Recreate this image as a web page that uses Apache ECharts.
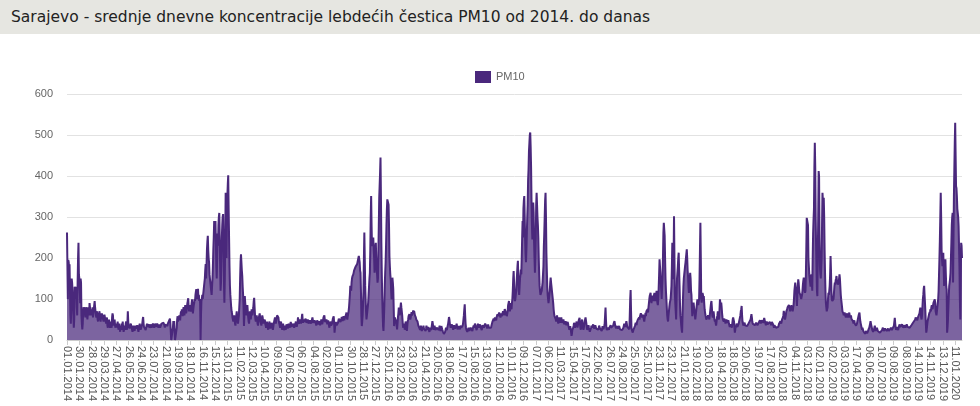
<!DOCTYPE html>
<html><head><meta charset="utf-8">
<script src="https://cdn.jsdelivr.net/npm/echarts@6/dist/echarts.min.js"></script>
<style>
html,body{margin:0;padding:0;background:#fff;width:980px;height:406px;overflow:hidden}
#title{position:absolute;left:0;top:0;width:980px;height:34px;background:#e6e6e1;font-family:"DejaVu Sans",sans-serif;font-size:15.5px;color:#222;line-height:34px;padding-left:11px;box-sizing:border-box;white-space:nowrap}
#chart{position:absolute;left:0;top:0;width:980px;height:406px}
</style></head><body>
<div id="chart"></div>
<div id="title">Sarajevo - srednje dnevne koncentracije lebdećih čestica PM10 od 2014. do danas</div>
<script>
const seriesName = 'PM10';
const tickLabels = [
'01.01.2014','30.01.2014','28.02.2014','29.03.2014','27.04.2014','26.05.2014','24.06.2014','23.07.2014','21.08.2014','19.09.2014','18.10.2014','16.11.2014','15.12.2014',
'13.01.2015','11.02.2015','12.03.2015','10.04.2015','09.05.2015','07.06.2015','06.07.2015','04.08.2015','02.09.2015','01.10.2015','30.10.2015','28.11.2015','27.12.2015',
'25.01.2016','23.02.2016','23.03.2016','21.04.2016','20.05.2016','18.06.2016','17.07.2016','15.08.2016','13.09.2016','12.10.2016','10.11.2016','09.12.2016',
'07.01.2017','06.02.2017','11.03.2017','15.04.2017','17.05.2017','22.06.2017','26.07.2017','24.08.2017','25.09.2017','25.10.2017','23.11.2017','23.12.2017',
'21.01.2018','19.02.2018','20.03.2018','18.04.2018','18.05.2018','20.06.2018','19.07.2018','17.08.2018','02.10.2018','04.11.2018','03.12.2018',
'02.01.2019','02.02.2019','03.03.2019','17.04.2019','06.06.2019','10.07.2019','09.08.2019','08.09.2019','14.10.2019','14.11.2019','13.12.2019',
'11.01.2020'
];
const daysBetweenTicks = 29;
const daysAfterLastTick = 16;

// daily PM10 means, one row per tick interval (29 days each)
const pm10 = [
262,180,100,195,190,170,185,120,60,40,80,150,140,120,90,60,30,50,130,120,100,110,130,80,60,140,200,237,160,
150,120,90,150,140,60,38,26,40,70,80,60,75,80,55,65,80,70,60,50,65,80,75,60,90,93,70,60,75,
70,60,80,55,65,75,85,95,80,70,60,55,70,65,50,45,60,55,70,65,50,45,55,60,65,60,55,50,45,
55,62,60,50,45,40,50,55,35,30,45,40,50,35,30,40,45,35,30,55,65,60,40,35,45,50,35,30,40,
35,40,30,45,35,25,30,40,28,20,35,30,25,40,35,45,30,20,25,35,30,25,40,45,30,25,40,70,45,
30,35,28,25,30,40,35,30,25,20,30,35,28,25,22,30,35,28,24,30,36,32,25,20,30,35,40,30,25,
28,32,30,40,50,56,40,32,30,35,28,24,30,35,40,32,28,30,36,38,30,26,30,34,38,30,28,32,40,
42,38,30,34,40,36,32,28,35,40,42,36,30,34,38,36,30,28,34,40,44,40,36,38,42,44,36,30,38,
40,36,42,38,34,40,44,38,36,42,52,40,36,0,0,0,0,30,46,40,46,20,0,0,0,0,30,50,58,
45,58,50,60,55,48,62,70,65,75,68,58,72,80,70,60,75,85,78,65,70,80,90,95,102,80,70,85,75,
75,70,80,90,99,80,65,75,85,90,100,95,110,118,124,105,100,115,125,100,110,95,100,90,0,60,95,100,110,
100,110,120,130,140,150,170,185,150,180,220,240,254,220,200,189,160,150,140,140,120,110,130,150,180,220,250,290,260,
280,290,240,180,150,200,260,230,280,300,310,250,180,120,140,200,250,280,300,307,220,140,91,150,250,359,280,200,300,
350,380,402,320,250,180,132,110,95,80,70,65,55,50,45,55,60,50,40,35,50,60,70,55,45,40,50,60,80,
100,150,190,209,190,170,156,130,110,80,34,60,107,90,80,70,60,75,85,70,55,45,40,55,70,65,50,60,75,
65,60,70,80,95,103,80,60,50,45,55,60,50,40,35,45,55,60,65,55,45,40,35,50,60,55,45,40,50,
45,50,40,35,30,40,45,38,30,25,35,40,45,35,28,30,35,42,38,30,25,32,40,45,50,55,45,40,50,
55,60,62,58,55,45,40,35,30,40,45,38,30,25,35,40,30,28,24,30,35,25,30,38,42,35,28,30,40,
40,35,30,38,44,40,32,28,30,36,40,35,30,28,34,40,45,38,32,36,42,55,48,40,36,44,50,45,40,
45,55,64,50,42,45,50,44,40,46,52,48,42,38,44,50,46,40,36,42,48,52,45,40,44,50,55,48,42,
45,40,48,52,46,40,35,42,48,44,38,34,40,46,42,36,40,45,50,44,38,42,48,55,58,60,50,44,40,
46,50,44,38,42,48,40,36,30,38,45,40,35,32,40,46,52,55,58,40,18,30,38,44,40,36,32,38,42,
45,52,48,55,50,44,40,48,56,52,46,50,58,54,48,52,56,60,62,67,55,50,58,62,70,80,95,110,132,
132,120,140,150,155,156,160,165,170,172,175,178,180,182,178,185,190,195,200,205,209,190,170,164,120,60,34,45,60,
60,120,200,262,200,132,100,70,50,60,70,80,91,110,130,150,164,220,300,351,280,229,240,245,250,220,200,164,200,
229,237,200,170,160,140,150,213,278,347,351,408,445,351,237,164,107,67,34,22,50,83,132,164,189,229,278,319,343,
343,340,330,280,205,180,160,148,120,99,130,152,140,124,80,34,45,55,50,50,45,35,26,40,55,65,79,70,60,
65,80,91,80,83,60,45,30,35,40,35,25,30,45,40,30,22,35,45,50,58,55,63,60,50,55,62,68,60,
60,67,72,65,71,68,60,62,55,50,52,48,45,40,35,38,30,28,25,30,35,28,22,20,25,30,35,28,30,
30,25,22,28,35,30,25,28,32,26,22,20,25,30,28,24,30,38,46,40,30,25,28,35,30,24,22,28,30,
28,32,30,26,24,30,35,28,22,25,34,30,26,22,20,18,15,14,14,20,25,30,28,24,30,35,40,48,56,
50,40,35,30,28,34,38,32,28,25,30,36,34,28,24,30,35,40,32,26,22,28,34,30,26,24,30,35,30,
28,30,35,40,50,60,75,87,60,40,30,25,22,20,18,25,30,28,22,20,24,30,34,30,26,22,28,32,35,
30,35,40,38,32,28,24,30,35,40,36,30,26,32,38,35,30,26,24,30,36,40,35,30,28,34,40,42,36,
34,30,28,32,38,36,30,28,34,30,26,30,36,40,44,40,48,52,46,50,55,58,52,48,56,60,63,58,55,
60,67,62,58,55,60,65,58,55,62,70,65,60,68,75,79,70,60,65,58,62,70,85,90,95,80,70,75,90,
80,75,90,100,120,150,168,140,100,95,100,110,120,140,160,180,193,150,120,110,130,150,160,172,160,200,250,290,250,
320,340,351,300,245,210,190,220,260,300,330,390,416,460,480,500,506,470,420,340,280,245,300,335,310,240,200,164,200,
250,330,359,330,300,280,250,200,160,132,120,110,107,107,120,130,140,140,180,229,260,300,340,359,300,213,170,130,110,
99,90,100,110,120,140,152,140,130,120,110,107,90,75,65,58,55,58,50,45,55,60,50,45,40,50,55,48,42,
45,50,55,48,42,40,45,50,44,38,35,40,46,42,36,32,38,44,40,34,30,25,28,34,30,20,10,15,25,
25,30,35,42,38,30,26,32,40,45,38,30,36,42,48,50,54,40,30,25,35,45,50,40,30,25,30,38,45,
50,55,58,40,30,25,22,30,36,30,25,20,18,24,30,35,30,26,32,38,34,28,24,30,36,32,28,25,30,
30,28,25,30,35,32,28,24,30,26,22,28,34,30,26,30,35,40,60,79,50,30,24,22,26,30,28,25,30,
28,32,36,30,26,30,34,30,35,40,42,46,40,34,30,28,34,38,32,28,24,30,34,30,26,22,26,30,28,
24,22,28,30,35,40,38,32,34,40,46,40,32,28,30,34,30,26,60,100,122,70,30,24,20,18,22,26,30,
30,34,38,42,40,36,44,48,50,46,52,55,50,58,62,65,67,60,55,58,62,55,50,45,52,60,66,58,70,
66,70,75,67,80,90,100,108,112,115,95,90,100,108,105,100,95,110,115,105,95,100,110,120,100,90,85,100,128,
160,197,180,164,140,120,100,130,150,200,260,286,270,254,200,150,120,100,80,60,50,45,60,70,80,90,91,100,115,
132,180,237,190,148,200,302,200,115,90,70,50,100,150,164,180,200,213,170,132,90,60,50,35,25,18,60,99,130,
150,160,170,180,189,200,210,221,200,170,156,130,115,130,150,164,150,120,110,80,58,70,85,91,80,70,60,50,60,
70,80,90,99,90,85,83,100,150,220,286,200,100,91,100,115,110,100,107,90,75,67,60,55,50,50,55,58,60,
60,55,50,60,70,80,90,95,80,60,55,65,70,60,50,45,50,40,35,45,55,60,70,60,50,55,75,99,90,
80,91,80,65,55,50,48,45,52,50,46,40,44,50,48,42,38,44,48,40,36,32,30,38,42,36,30,40,50,
55,58,45,30,18,25,35,30,40,38,32,28,35,40,45,50,55,60,70,75,83,60,45,40,35,32,38,42,36,
32,35,40,38,34,30,36,40,44,40,36,42,50,56,63,55,45,40,36,38,42,40,36,34,38,42,44,40,36,
38,40,42,38,44,48,45,40,44,48,52,50,46,42,48,54,50,44,40,36,40,45,42,38,34,38,42,40,44,
42,46,40,36,44,48,42,38,34,30,36,40,38,34,30,28,26,30,34,32,36,40,38,42,46,44,40,45,50,
50,55,60,71,65,55,50,56,62,70,68,75,80,78,82,85,87,78,70,75,80,85,82,75,70,78,85,100,120,
130,140,140,120,100,83,110,130,148,140,125,115,115,110,105,100,99,110,120,135,145,152,140,120,115,120,160,220,298,
298,300,280,200,180,160,164,140,130,150,160,140,120,200,260,294,320,420,481,420,300,230,170,120,107,200,300,412,400,
250,180,160,150,148,200,280,359,340,300,347,300,220,164,120,91,80,70,67,80,100,115,110,120,132,160,205,170,120,
100,95,92,91,100,115,130,140,135,145,150,156,145,140,135,132,140,150,160,150,130,110,99,90,80,70,67,65,60,
60,67,62,58,55,60,65,63,60,55,58,62,67,60,55,58,60,52,48,50,55,45,40,44,48,40,36,38,35,
35,40,45,50,55,60,62,67,55,45,40,35,30,25,30,28,22,20,18,20,15,14,18,22,20,16,15,20,25,
25,30,35,40,46,40,35,30,25,22,20,18,25,30,35,28,22,20,24,30,28,22,18,20,24,22,18,16,20,
22,20,24,28,30,26,22,20,24,28,32,30,26,22,20,24,28,25,22,20,18,22,26,30,28,24,22,26,28,
28,35,45,54,40,30,25,22,28,32,28,24,30,34,38,36,32,28,30,34,38,40,36,30,28,32,36,34,30,
30,34,38,36,32,30,34,36,32,30,28,32,34,36,40,38,35,38,44,48,46,42,50,55,52,58,52,48,54,
54,56,58,65,72,79,70,55,50,60,80,99,110,125,132,110,90,67,40,18,25,35,45,50,55,60,65,67,70,
75,70,80,85,80,75,85,91,90,95,99,90,70,65,60,70,80,90,100,120,160,200,245,300,359,300,220,197,180,
190,213,170,132,160,190,197,160,130,123,18,30,50,80,110,132,140,150,164,200,237,280,300,310,140,250,350,416,480,
530,450,375,370,350,320,310,300,278,230,180,100,50,150,237,230,200
];

function parseDate(s){const p=s.split('.').map(Number);return Date.UTC(p[2],p[1]-1,p[0]);}
function fmtDate(t){const d=new Date(t);const dd=String(d.getUTCDate()).padStart(2,'0');const mm=String(d.getUTCMonth()+1).padStart(2,'0');return dd+'.'+mm+'.'+d.getUTCFullYear();}
const categories=[];
tickLabels.forEach((lab,i)=>{
  categories.push(lab);
  const extra = i<tickLabels.length-1 ? daysBetweenTicks-1 : daysAfterLastTick;
  const t0=parseDate(lab);
  for(let k=1;k<=extra;k++) categories.push(fmtDate(t0+k*86400000));
});

const chart=echarts.init(document.getElementById('chart'),null,{renderer:'canvas'});
chart.setOption({
  animation:false,
  legend:{data:[seriesName],left:470,top:66,itemWidth:16,itemHeight:12,icon:'rect',itemGap:5,
    textStyle:{color:'#666',fontSize:11,fontFamily:'Liberation Sans, Arial, sans-serif'}},
  grid:{left:67,right:18,top:94,bottom:66},
  xAxis:{type:'category',data:categories,boundaryGap:false,
    axisLine:{lineStyle:{color:'#ccc'}},
    axisTick:{interval:daysBetweenTicks-1,length:5,lineStyle:{color:'#ccc'}},
    axisLabel:{interval:daysBetweenTicks-1,rotate:-90,color:'#555',fontSize:11,fontFamily:'Liberation Sans, Arial, sans-serif',margin:6}},
  yAxis:{type:'value',min:0,max:600,interval:100,
    axisLabel:{color:'#666',fontSize:11,fontFamily:'Liberation Sans, Arial, sans-serif',margin:14},
    splitLine:{lineStyle:{color:'#e2e2e2'}},axisLine:{show:false},axisTick:{show:false}},
  series:[{name:seriesName,type:'line',data:pm10,showSymbol:false,symbol:'none',
    lineStyle:{color:'#4a287c',width:2},itemStyle:{color:'#4a287c'},
    areaStyle:{color:'#4a287c',opacity:0.72}}]
});
</script>
</body></html>
